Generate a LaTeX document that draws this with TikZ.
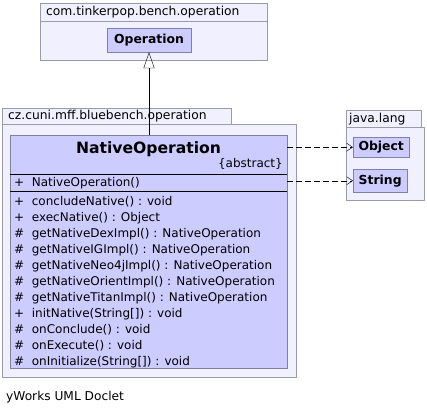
\documentclass[tikz,border=0pt]{standalone}
\usepackage{fontspec}
\setmainfont{DejaVu Sans}
\usetikzlibrary{arrows.meta, positioning}

\definecolor{pkgfill}{HTML}{F0F0FF}
\definecolor{pkgline}{HTML}{9A9AA8}
\definecolor{clsfill}{HTML}{CCCCFF}
\definecolor{clsline}{HTML}{8080A0}

\newcommand{\txt}{\fontsize{12}{16}\selectfont}

\begin{document}
\begin{tikzpicture}[x=1pt, y=-1pt,
    pkgtab/.style={draw=pkgline, fill=pkgfill, anchor=north west, inner xsep=6pt, inner ysep=0pt, align=left, font=\fontsize{12.3}{14}\selectfont},
    pkgbody/.style={draw=pkgline, fill=pkgfill, anchor=north west, inner sep=0pt},
    clsbox/.style={draw=clsline, fill=clsfill, inner sep=0pt, font=\bfseries\fontsize{12.4}{14}\selectfont},
    dep/.style={dash pattern=on 6pt off 3pt, -{Straight Barb[length=6pt, width=8pt]}}]
    \useasboundingbox (0,0) rectangle (427,414);

    % com.tinkerpop.bench.operation
    \node[pkgtab, minimum width=227pt, minimum height=18pt, text width=215pt] (tabA) at (40,3) {com.tinkerpop.bench.operation};
    \node[pkgbody, minimum width=227pt, minimum height=39pt] (bodyA) at (40,21) {};
    \node[clsbox, minimum width=84pt, minimum height=24pt] (op) at (149,40) {Operation};

    % cz.cuni.mff.bluebench.operation
    \node[pkgtab, minimum width=229pt, minimum height=16pt, text width=217pt] (tabB) at (2,108) {cz.cuni.mff.bluebench.operation};
    \node[pkgbody, minimum width=294pt, minimum height=253pt] (bodyB) at (2,124) {};
    \node[draw=clsline, fill=clsfill, anchor=north west, minimum width=277pt, minimum height=233pt, inner sep=0pt] (cls) at (10,135) {};
    \node[font=\bfseries\fontsize{15.6}{18}\selectfont, inner sep=0pt] (clsname) at (148.5,149) {NativeOperation};
    \node[anchor=east, font=\txt, inner sep=0pt] (abs) at (283,164) {\{abstract\}};
    \draw (cls.west |- 0,174) -- (cls.east |- 0,174);
    \draw (cls.west |- 0,191) -- (cls.east |- 0,191);
    \node[anchor=west, font=\txt, inner sep=0pt] (ctor) at (14,183) {+\ \ NativeOperation()};
    \node[anchor=north west, font=\txt, inner sep=0pt, align=left] (meth) at (14,196) {%
        +\ \ concludeNative() : void\\
        +\ \ execNative() : Object\\
        \#\ \ getNativeDexImpl() : NativeOperation\\
        \#\ \ getNativeIGImpl() : NativeOperation\\
        \#\ \ getNativeNeo4jImpl() : NativeOperation\\
        \#\ \ getNativeOrientImpl() : NativeOperation\\
        \#\ \ getNativeTitanImpl() : NativeOperation\\
        +\ \ initNative(String[]) : void\\
        \#\ \ onConclude() : void\\
        \#\ \ onExecute() : void\\
        \#\ \ onInitialize(String[]) : void};

    % java.lang
    \node[pkgtab, minimum width=75pt, minimum height=17pt, text width=69pt, inner xsep=3pt] (tabC) at (346,110) {java.lang};
    \node[pkgbody, minimum width=78pt, minimum height=73pt] (bodyC) at (346,127) {};
    \node[clsbox, anchor=north west, minimum width=56pt, minimum height=20pt] (obj) at (353,137) {Object};
    \node[clsbox, anchor=north west, minimum width=54pt, minimum height=23pt] (str) at (353,169) {String};

    % relations
    \draw[-{Triangle[open, length=16pt, width=11pt]}] (cls.north -| op.south) -- (op.south);
    \draw[dep] (cls.east |- obj.west) -- (obj.west);
    \draw[dep] (cls.east |- str.west) -- (str.west);

    \node[anchor=west, font=\fontsize{12.2}{14}\selectfont, inner sep=0pt] (doclet) at (6,397) {yWorks UML Doclet};
\end{tikzpicture}
\end{document}
